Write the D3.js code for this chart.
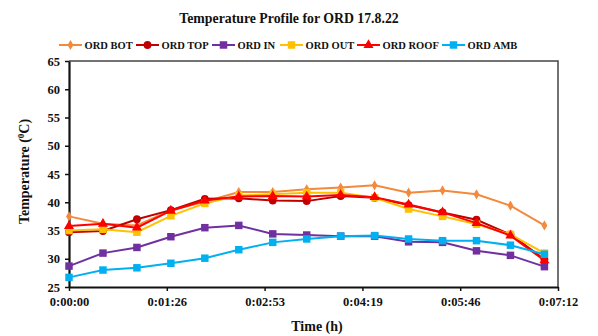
<!DOCTYPE html>
<html>
<head>
<meta charset="utf-8">
<script src="https://cdn.jsdelivr.net/npm/d3@7"></script>
<style>
  html, body { margin: 0; padding: 0; background: #fff; }
  svg { display: block; font-family: "Liberation Serif", "Times New Roman", serif; font-weight: bold; }
</style>
</head>
<body>
<svg id="chart" width="598" height="336"></svg>
<script>
// Sampling times in seconds (every 30 s)
const times = [0, 30, 60, 90, 120, 150, 180, 210, 240, 270, 300, 330, 360, 390, 420];

const seriesNames = ["ORD BOT", "ORD TOP", "ORD IN", "ORD OUT", "ORD ROOF", "ORD AMB"];
const seriesColors = ["#F4883C", "#C00000", "#7030A0", "#FFC000", "#FF0000", "#00B0F0"];
const seriesMarkers = ["diamond", "circle", "square", "square", "triangle", "square"];

const ordBot  = [37.5, 36.2, 35.9, 38.6, 40.1, 41.8, 41.8, 42.3, 42.6, 43.0, 41.7, 42.1, 41.4, 39.4, 35.9];
const ordTop  = [34.7, 34.9, 37.0, 38.6, 40.6, 40.7, 40.3, 40.2, 41.1, 40.8, 39.5, 38.2, 36.9, 34.3, 29.9];
const ordIn   = [28.7, 31.0, 32.0, 33.9, 35.5, 35.9, 34.4, 34.2, 34.0, 34.0, 33.0, 32.9, 31.4, 30.6, 28.6];
const ordOut  = [35.0, 35.2, 34.7, 37.6, 39.8, 41.2, 41.4, 41.7, 41.7, 40.8, 38.8, 37.5, 36.1, 34.3, 31.0];
const ordRoof = [35.8, 36.2, 35.5, 38.5, 40.3, 41.0, 41.1, 41.0, 41.3, 40.9, 39.6, 38.2, 36.3, 34.1, 29.7];
const ordAmb  = [26.7, 28.0, 28.4, 29.2, 30.1, 31.6, 32.9, 33.5, 34.0, 34.1, 33.5, 33.2, 33.2, 32.4, 30.8];

const xTickValues = [0, 86.4, 172.8, 259.2, 345.6, 432];
const xTickLabels = ["0:00:00", "0:01:26", "0:02:53", "0:04:19", "0:05:46", "0:07:12"];
const yTickValues = [25, 30, 35, 40, 45, 50, 55, 60, 65];

const seriesValues = [ordBot, ordTop, ordIn, ordOut, ordRoof, ordAmb];
const series = seriesNames.map((name, i) => ({
  name, color: seriesColors[i], marker: seriesMarkers[i],
  points: times.map((t, j) => ({ t, v: seriesValues[i][j] }))
}));

const svg = d3.select("#chart");
const plot = { left: 69, right: 558, top: 61, bottom: 287 };

const x = d3.scaleLinear().domain([0, 432]).range([plot.left, plot.right]);
const y = d3.scaleLinear().domain([25, 65]).range([plot.bottom, plot.top]);

// Title
svg.append("text")
  .attr("x", 289).attr("y", 23)
  .attr("text-anchor", "middle")
  .attr("font-size", 13.8)
  .attr("fill", "#111")
  .text("Temperature Profile for ORD 17.8.22");

// Plot frame (top and right)
svg.append("path")
  .attr("d", `M${plot.left},${plot.top}H${plot.right}V${plot.bottom}`)
  .attr("fill", "none")
  .attr("stroke", "#444")
  .attr("stroke-width", 1.5);

// Axes
const xAxis = d3.axisBottom(x)
  .tickValues(xTickValues)
  .tickFormat((d, i) => xTickLabels[i])
  .tickSizeInner(4).tickSizeOuter(0).tickPadding(6);
const yAxis = d3.axisLeft(y)
  .tickValues(yTickValues)
  .tickSizeInner(4).tickSizeOuter(0).tickPadding(5);

const gx = svg.append("g").attr("transform", `translate(0,${plot.bottom})`).call(xAxis);
const gy = svg.append("g").attr("transform", `translate(${plot.left},0)`).call(yAxis);

[gx, gy].forEach(g => {
  g.select(".domain").attr("stroke", "#111").attr("stroke-width", 2.2);
  g.selectAll(".tick line").attr("stroke", "#111").attr("stroke-width", 1.5);
  g.selectAll(".tick text")
    .attr("font-family", "'Liberation Serif', 'Times New Roman', serif")
    .attr("font-weight", "bold")
    .attr("font-size", 12.5)
    .attr("fill", "#111");
});

// Axis titles
svg.append("text")
  .attr("x", 317).attr("y", 331)
  .attr("text-anchor", "middle")
  .attr("font-size", 14)
  .attr("fill", "#111")
  .text("Time (h)");

const yTitle = svg.append("text")
  .attr("transform", `translate(29,171.5) rotate(-90)`)
  .attr("text-anchor", "middle")
  .attr("font-size", 14)
  .attr("fill", "#111");
yTitle.append("tspan").text("Temperature (");
yTitle.append("tspan").attr("font-size", 9).attr("dy", -5).text("0");
yTitle.append("tspan").attr("dy", 5).text("C)");

// Marker shapes
const symbolFor = {
  diamond: d3.symbol().type(d3.symbolDiamond).size(30),
  circle: d3.symbol().type(d3.symbolCircle).size(48),
  square: d3.symbol().type(d3.symbolSquare).size(56),
  triangle: d3.symbol().type(d3.symbolTriangle).size(44)
};

const line = d3.line().x(d => x(d.t)).y(d => y(d.v));

series.forEach(s => {
  const g = svg.append("g");
  g.append("path")
    .datum(s.points)
    .attr("d", line)
    .attr("fill", "none")
    .attr("stroke", s.color)
    .attr("stroke-width", 2);
  g.selectAll("path.m")
    .data(s.points)
    .join("path")
    .attr("class", "m")
    .attr("transform", d => `translate(${x(d.t)},${y(d.v)})`)
    .attr("d", symbolFor[s.marker]())
    .attr("fill", s.color);
});

// Legend
const legendX = [59, 136, 212, 280, 357, 442];
const legend = svg.append("g");
series.forEach((s, i) => {
  const lx = legendX[i];
  legend.append("line")
    .attr("x1", lx).attr("x2", lx + 23)
    .attr("y1", 45).attr("y2", 45)
    .attr("stroke", s.color).attr("stroke-width", 2);
  legend.append("path")
    .attr("transform", `translate(${lx + 11.5},45)`)
    .attr("d", symbolFor[s.marker]())
    .attr("fill", s.color);
  legend.append("text")
    .attr("x", lx + 25.5).attr("y", 49)
    .attr("font-size", 10.5)
    .attr("fill", "#111")
    .text(s.name);
});
</script>
</body>
</html>
